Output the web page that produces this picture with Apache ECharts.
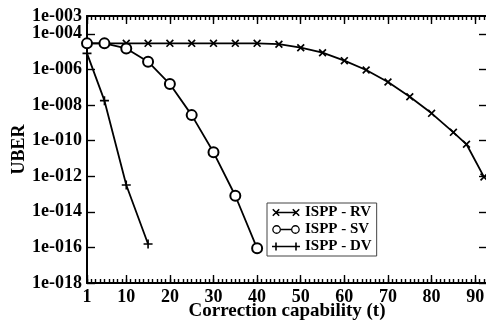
<!DOCTYPE html>
<html>
<head>
<meta charset="utf-8">
<script src="https://cdn.jsdelivr.net/npm/echarts@6/dist/echarts.min.js"></script>
<style>
html,body{margin:0;padding:0;background:#fff;}
#chart{width:486px;height:325px;}
</style>
</head>
<body>
<div id="chart"></div>
<script>
// ---- data ----
const tRV = [1, 5, 10, 15, 20, 25, 30, 35, 40, 45, 50, 55, 60, 65, 70, 75, 80, 85, 88, 92];
const uberRV = [2.9e-5, 2.9e-5, 2.9e-5, 2.9e-5, 2.9e-5, 2.9e-5, 2.9e-5, 2.9e-5, 2.9e-5, 2.6e-5, 1.65e-5, 8.7e-6, 3.1e-6, 9.2e-7, 1.96e-7, 2.9e-8, 3.4e-9, 2.9e-10, 6.2e-11, 9.1e-13];
const tSV = [1, 5, 10, 15, 20, 25, 30, 35, 40];
const uberSV = [2.9e-5, 2.9e-5, 1.5e-5, 2.7e-6, 1.5e-7, 2.7e-9, 2.2e-11, 8e-14, 8.9e-17];
const tDV = [1, 5, 10, 15];
const uberDV = [8e-6, 1.75e-8, 3.2e-13, 1.55e-16];
const seriesNames = ['ISPP - RV', 'ISPP - SV', 'ISPP - DV'];
const xTickLabels = [1, 10, 20, 30, 40, 50, 60, 70, 80, 90];
const yTickExponents = [-18, -16, -14, -12, -10, -8, -6, -4];
const yTopExponent = [-3];
const xTitle = 'Correction capability (t)';
const yTitle = 'UBER';

// ---- helpers ----
const FONT = 'Liberation Serif';
const X_MIN = 1, X_MAX = 92.7;
const xMinorTicks = [];
for (let v = 1; v <= 92; v++) xMinorTicks.push(v);

function toPoints(ts, vals) { return ts.map((t, i) => [t, Math.log10(vals[i])]); }
function f(n) { return (+n.toFixed(3)).toString(); }
function quad(p) { return 'M' + p.map(q => f(q[0]) + ',' + f(q[1])).join(' L') + ' Z '; }
function xGlyph(cx, cy, r, w) {
  const d = w / Math.SQRT2;
  const a = quad([[cx - r + d, cy - r - d], [cx + r + d, cy + r - d], [cx + r - d, cy + r + d], [cx - r - d, cy - r + d]]);
  const b = quad([[cx - r - d, cy + r - d], [cx + r - d, cy - r - d], [cx + r + d, cy - r + d], [cx - r + d, cy + r + d]]);
  return a + b;
}
function rect(x0, y0, x1, y1) { return quad([[x0, y0], [x1, y0], [x1, y1], [x0, y1]]); }
function plusGlyph(cx, cy, r, w) { return rect(cx - r, cy - w, cx + r, cy + w) + rect(cx - w, cy - r, cx + w, cy + r); }
function ring(cx, cy, R, r) {
  return 'M' + f(cx - R) + ',' + f(cy) + ' A' + R + ',' + R + ' 0 1,1 ' + f(cx + R) + ',' + f(cy) + ' A' + R + ',' + R + ' 0 1,1 ' + f(cx - R) + ',' + f(cy) + ' Z ' +
         'M' + f(cx - r) + ',' + f(cy) + ' A' + r + ',' + r + ' 0 1,0 ' + f(cx + r) + ',' + f(cy) + ' A' + r + ',' + r + ' 0 1,0 ' + f(cx - r) + ',' + f(cy) + ' Z ';
}
const IW = 28, IH = 10;
function corners() { return 'M0,0 L0.01,0 L0,0.01 Z M' + IW + ',' + IH + ' L' + (IW - 0.01) + ',' + IH + ' L' + IW + ',' + (IH - 0.01) + ' Z '; }
const legendIcons = [
  'path://' + corners() + xGlyph(4, 5, 3.2, 0.8) + rect(4, 4.2, 24, 5.8) + xGlyph(24, 5, 3.2, 0.8),
  'path://' + corners() + ring(4.6, 5, 4.4, 3.1) + rect(9, 4.2, 19, 5.8) + ring(23.4, 5, 4.4, 3.1),
  'path://' + corners() + plusGlyph(4, 5, 4, 0.8) + rect(4, 4.2, 24, 5.8) + plusGlyph(24, 5, 4, 0.8)
];
const xSymbol = 'path://' + xGlyph(5, 5, 4, 1.0);
const plusSymbol = 'path://' + plusGlyph(5, 5, 5, 0.9);

const yFmt = v => '1e-' + String(Math.round(-v)).padStart(3, '0');
function lbl(extra) { return Object.assign({ fontFamily: FONT, fontWeight: 'bold', fontSize: 18, color: '#000' }, extra); }
function line(show) { return show ? { show: true, lineStyle: { color: '#000', width: 2 } } : { show: false }; }
function ticks(vals, len) { return { show: true, inside: true, length: len, lineStyle: { color: '#000', width: 1.4 }, customValues: vals }; }

function xAxisDef(pos, major) {
  const labelled = major && pos === 'bottom';
  return {
    type: 'value', position: pos, min: X_MIN, max: X_MAX,
    axisLine: line(major),
    axisTick: ticks(major ? xTickLabels : xMinorTicks, major ? 8 : 4),
    axisLabel: labelled ? lbl({ show: true, customValues: xTickLabels, margin: 5 }) : { show: false },
    splitLine: { show: false },
    name: labelled ? xTitle : '',
    nameLocation: 'middle', nameGap: 18.5, nameMoveOverlap: false,
    nameTextStyle: { fontFamily: FONT, fontWeight: 'bold', fontSize: 19, color: '#000' }
  };
}
const yBase = { type: 'value', min: -18, max: -3, splitLine: { show: false } };

const chart = echarts.init(document.getElementById('chart'), null, { renderer: 'canvas' });
chart.setOption({
  animation: false,
  backgroundColor: '#fff',
  grid: { left: 87, top: 16, width: 400, height: 267, containLabel: false, outerBoundsMode: 'none' },
  xAxis: [xAxisDef('bottom', true), xAxisDef('bottom', false), xAxisDef('top', true), xAxisDef('top', false)],
  yAxis: [
    Object.assign({}, yBase, {
      position: 'left', axisLine: line(true), axisTick: ticks(yTickExponents, 8),
      axisLabel: lbl({ show: true, customValues: yTickExponents, margin: 5, formatter: yFmt }),
      name: yTitle, nameLocation: 'middle', nameGap: 59, nameRotate: 90, nameMoveOverlap: false,
      nameTextStyle: { fontFamily: FONT, fontWeight: 'bold', fontSize: 18, color: '#000' }
    }),
    Object.assign({}, yBase, {
      position: 'left', axisLine: line(false), axisTick: { show: false },
      axisLabel: lbl({ show: true, customValues: yTopExponent, margin: 5, formatter: yFmt })
    }),
    Object.assign({}, yBase, {
      position: 'right', axisLine: line(true), axisTick: ticks(yTickExponents, 8), axisLabel: { show: false }
    })
  ],
  legend: {
    orient: 'vertical', left: 267, top: 203,
    padding: [1, 5, 1, 5], itemGap: 0, itemWidth: IW, itemHeight: IH,
    borderColor: '#444', borderWidth: 1, backgroundColor: '#fff',
    symbolKeepAspect: true,
    itemStyle: { color: '#000', borderWidth: 0 },
    textStyle: { fontFamily: FONT, fontWeight: 'bold', fontSize: 15, lineHeight: 17, color: '#000' },
    data: seriesNames.map((n, i) => ({ name: n, icon: legendIcons[i] })),
    selectedMode: false
  },
  series: [
    {
      name: seriesNames[0], type: 'line', xAxisIndex: 0, yAxisIndex: 0,
      data: toPoints(tRV, uberRV), symbol: xSymbol, symbolSize: 8, showAllSymbol: true,
      lineStyle: { color: '#000', width: 1.8 }, itemStyle: { color: '#000', borderWidth: 0 }, z: 3
    },
    {
      name: seriesNames[1], type: 'line', xAxisIndex: 0, yAxisIndex: 0,
      data: toPoints(tSV, uberSV), symbol: 'emptyCircle', symbolSize: 10, showAllSymbol: true,
      lineStyle: { color: '#000', width: 1.8 }, itemStyle: { color: '#000', borderColor: '#000', borderWidth: 1.6 }, z: 4
    },
    {
      name: seriesNames[2], type: 'line', xAxisIndex: 0, yAxisIndex: 0,
      data: toPoints(tDV, uberDV), symbol: plusSymbol, symbolSize: 9, showAllSymbol: true,
      lineStyle: { color: '#000', width: 1.8 }, itemStyle: { color: '#000', borderWidth: 0 }, z: 3
    }
  ]
});
</script>
</body>
</html>
